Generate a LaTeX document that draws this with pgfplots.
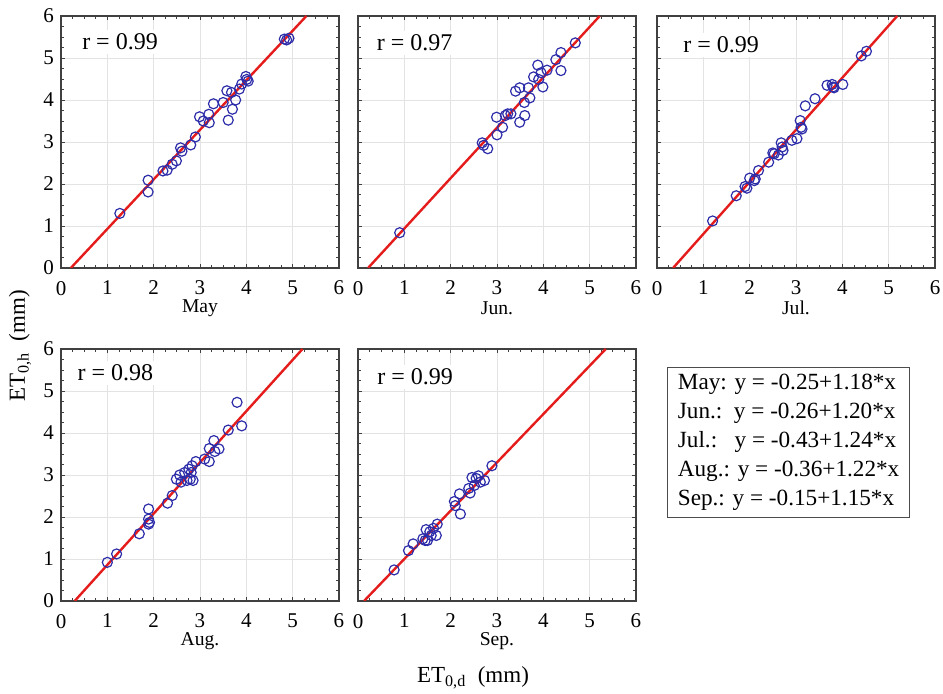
\documentclass[border=0pt]{standalone}
\usepackage{fontspec}
\setmainfont{Liberation Serif}
\usepackage{pgfplots}
\pgfplotsset{compat=1.18}

\definecolor{ptblue}{RGB}{45,45,170}
\definecolor{fitred}{RGB}{228,28,28}

\pgfplotsset{
  panel/.style={
    scale only axis, width=139pt, height=126pt,
    xmin=0, xmax=6, ymin=0, ymax=6,
    xtick={0,...,6}, ytick={0,...,6},
    minor tick num=3,
    tick align=inside,
    major tick length=2.2pt, minor tick length=1.3pt,
    grid=major, major grid style={gray!22, line width=0.4pt},
    axis line style={black!75, line width=0.6pt},
    every tick/.style={black!75, line width=0.4pt},
    tick label style={font=\fontsize{10.5}{12}\selectfont},
    /pgf/number format/assume math mode=true,
    xticklabel style={yshift=-3pt},
    xlabel style={at={(axis description cs:0.5,0)}, anchor=center, yshift=-20pt, font=\fontsize{9.8}{11}\selectfont},
    anchor=south west,
  },
  noy/.style={yticklabels={}},
  pts/.style={only marks, mark=o, mark size=2.5pt, color=ptblue, mark options={line width=0.6pt}},
  fit/.style={no marks, color=fitred, line width=1.2pt},
}
\newcommand{\rlab}[3]{\node[fill=white, anchor=west, inner xsep=5pt, inner ysep=2pt, xshift=-5pt, font=\fontsize{12}{14}\selectfont] at (axis cs:#1,#2) {#3};}

\begin{document}
\begin{tikzpicture}
\useasboundingbox (0,0) rectangle (471.5pt,347pt);

% ---------- May ----------
\begin{axis}[panel, at={(30.5pt,213pt)}, xlabel={May}]
\addplot[pts] coordinates {
(1.27,1.30) (1.88,2.09) (1.88,1.81) (2.20,2.31) (2.29,2.33) (2.40,2.47)
(2.49,2.55) (2.58,2.86) (2.61,2.78) (2.80,2.93) (2.90,3.12) (2.99,3.60)
(3.07,3.50) (3.20,3.46) (3.19,3.66) (3.29,3.91) (3.50,3.94) (3.58,4.22)
(3.61,3.52) (3.68,4.18) (3.70,3.78) (3.77,4.00) (3.85,4.26) (3.90,4.38)
(3.99,4.56) (4.01,4.49) (4.04,4.45) (4.82,5.45) (4.92,5.47) (4.87,5.43)
};
\addplot[fit] coordinates {(0.212,0) (5.297,6)};
\rlab{0.45}{5.38}{r = 0.99}
\end{axis}

% ---------- Jun ----------
\begin{axis}[panel, noy, at={(179pt,213pt)}, xlabel={Jun.}]
\addplot[pts] coordinates {
(0.90,0.84) (2.68,2.98) (2.71,2.92) (2.80,2.84) (3.00,3.17) (2.99,3.59)
(3.12,3.35) (3.18,3.63) (3.23,3.67) (3.30,3.67) (3.40,4.21) (3.49,4.29)
(3.49,3.47) (3.60,3.63) (3.59,3.94) (3.68,4.29) (3.71,4.05) (3.79,4.55)
(3.88,4.83) (3.90,4.49) (3.95,4.65) (3.99,4.31) (4.08,4.71) (4.27,4.96)
(4.38,5.13) (4.38,4.70) (4.69,5.36)
};
\addplot[fit] coordinates {(0.217,0) (5.217,6)};
\rlab{0.40}{5.36}{r = 0.97}
\end{axis}

% ---------- Jul ----------
\begin{axis}[panel, noy, at={(328.5pt,213pt)}, xlabel={Jul.}]
\addplot[pts] coordinates {
(1.20,1.12) (1.71,1.72) (1.90,1.94) (1.94,1.90) (2.00,2.14) (2.10,2.08)
(2.12,2.12) (2.19,2.32) (2.41,2.52) (2.50,2.74) (2.53,2.72) (2.62,2.69)
(2.68,2.98) (2.70,2.88) (2.72,2.80) (2.91,3.04) (3.02,3.08) (3.09,3.51)
(3.11,3.35) (3.13,3.31) (3.20,3.86) (3.41,4.03) (3.67,4.35) (3.78,4.37)
(3.80,4.31) (3.82,4.29) (4.01,4.37) (4.41,5.05) (4.52,5.16)
};
\addplot[fit] coordinates {(0.347,0) (5.185,6)};
\rlab{0.56}{5.31}{r = 0.99}
\end{axis}

% ---------- Aug ----------
\begin{axis}[panel, at={(30.5pt,46.5pt)}, xlabel={Aug.}]
\addplot[pts] coordinates {
(1.00,0.92) (1.20,1.12) (1.69,1.60) (1.89,2.19) (1.89,1.95) (1.89,1.83)
(1.91,1.87) (2.30,2.33) (2.40,2.51) (2.49,2.90) (2.56,3.00) (2.59,2.83)
(2.67,3.06) (2.72,2.87) (2.76,3.14) (2.79,2.90) (2.81,3.06) (2.83,3.22)
(2.85,2.87) (2.91,3.32) (3.10,3.38) (3.20,3.32) (3.20,3.63) (3.30,3.82)
(3.32,3.56) (3.41,3.62) (3.61,4.07) (3.80,4.73) (3.90,4.17)
};
\addplot[fit] coordinates {(0.295,0) (5.213,6)};
\rlab{0.35}{5.43}{r = 0.98}
\end{axis}

% ---------- Sep ----------
\begin{axis}[panel, noy, at={(179pt,46.5pt)}, xlabel={Sep.}]
\addplot[pts] coordinates {
(0.78,0.74) (1.09,1.20) (1.19,1.36) (1.40,1.48) (1.45,1.44) (1.47,1.70)
(1.50,1.44) (1.55,1.65) (1.58,1.56) (1.63,1.73) (1.69,1.56) (1.71,1.83)
(2.08,2.37) (2.10,2.27) (2.19,2.55) (2.21,2.07) (2.39,2.68) (2.42,2.57)
(2.46,2.94) (2.51,2.75) (2.55,2.92) (2.60,2.98) (2.64,2.83) (2.73,2.87)
(2.89,3.22)
};
\addplot[fit] coordinates {(0.130,0) (5.348,6)};
\rlab{0.41}{5.33}{r = 0.99}
\end{axis}

% ---------- equations box ----------
\node[draw=black!70, line width=0.6pt, anchor=north west,
      minimum width=121pt, minimum height=75pt, inner xsep=3pt, align=left,
      font=\fontsize{11.6}{14.5}\selectfont] at (333.5pt,163.5pt)
{May: y = -0.25+1.18*x\\
Jun.:\ \ y = -0.26+1.20*x\\
Jul.:\ \ \ y = -0.43+1.24*x\\
Aug.: y = -0.36+1.22*x\\
Sep.: y = -0.15+1.15*x};

% ---------- shared axis labels ----------
\node[rotate=90, font=\fontsize{11.5}{13}\selectfont] at (10pt,174pt) {ET\textsubscript{0,h}\ \ (mm)};
\node[font=\fontsize{11.5}{13}\selectfont] at (236.5pt,8pt) {ET\textsubscript{0,d}\ \ (mm)};
\end{tikzpicture}
\end{document}
